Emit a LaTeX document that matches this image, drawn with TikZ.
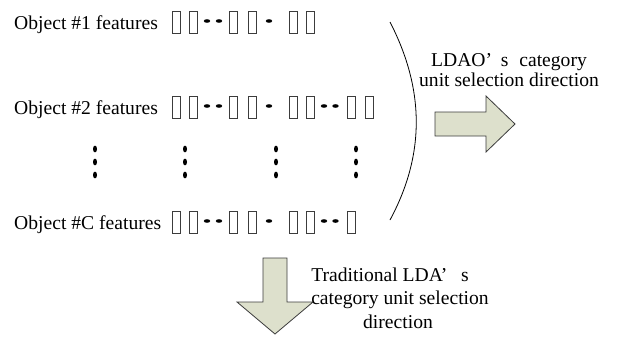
\documentclass[tikz,border=0pt]{standalone}
\usepackage{fontspec}
\setmainfont{Liberation Serif}
\definecolor{arrowfill}{RGB}{221,224,204}
\definecolor{edgegray}{RGB}{60,60,60}
\begin{document}
\begin{tikzpicture}[x=1pt,y=-1pt,
  lbl/.style={inner sep=0pt, font=\fontsize{19.6}{22}\selectfont},
  tofu/.style={draw=edgegray, line width=0.8pt},
  blob/.style={fill=black},
  bigarrow/.style={draw=edgegray, fill=arrowfill, line width=0.8pt, line join=miter},
  curve/.style={draw=black, line width=0.8pt}]
\useasboundingbox (0,0) rectangle (618,341);
% row labels
\node[lbl, anchor=base west] (o1) at (14,29) {Object \#1 features};
\node[lbl, anchor=base west] (o2) at (14,114) {Object \#2 features};
\node[lbl, anchor=base west] (oc) at (14,229) {Object \#C features};
% row 1 glyphs
\foreach \bx in {172,189.5,229,248,289.5,306.5}
  \draw[tofu] (\bx,11) rectangle ++(8,22);
\foreach \dx in {207,219,269}
  \fill[blob] (\dx,21) ellipse [x radius=3.2pt, y radius=1.8pt];
% row 2 glyphs
\foreach \bx in {172,189.5,229,248,289.5,306.5,347,365}
  \draw[tofu] (\bx,96) rectangle ++(8,22);
\foreach \dx in {207,219,269,324,335.5}
  \fill[blob] (\dx,106) ellipse [x radius=3.2pt, y radius=1.8pt];
% row C glyphs
\foreach \bx in {172,189.5,229,248,289.5,306.5,347}
  \draw[tofu] (\bx,211) rectangle ++(8,22);
\foreach \dx in {207,219,269,324,335.5}
  \fill[blob] (\dx,221) ellipse [x radius=3.2pt, y radius=1.8pt];
% vertical ellipses
\foreach \vx in {95,185,276,356}
  \foreach \vy in {149,162,175}
    \fill[blob] (\vx,\vy) ellipse [x radius=2pt, y radius=3.4pt];
% bracket arc
\coordinate (arcA) at (390,22);
\coordinate (arcB) at (390,220);
\draw[curve] (arcA) .. controls (425,90) and (425,155) .. (arcB);
% right arrow
\draw[bigarrow] (435,112) -- (486,112) -- (486,96) -- (515,124) -- (486,152) -- (486,136) -- (435,136) -- cycle;
\node[lbl, anchor=base] (r1) at (509,66) {LDAO’\hspace{0.45em}s\hspace{0.55em}category};
\node[lbl, anchor=base] (r2) at (509,86) {unit selection direction};
% down arrow
\draw[bigarrow] (263,258) -- (287,258) -- (287,302) -- (313,302) -- (275,334) -- (237,302) -- (263,302) -- cycle;
\node[lbl, anchor=base] (b1) at (390,281) {Traditional LDA’\hspace{0.7em}s};
\node[lbl, anchor=base] (b2) at (400,304.5) {category unit selection};
\node[lbl, anchor=base] (b3) at (398,328) {direction};
\end{tikzpicture}
\end{document}
